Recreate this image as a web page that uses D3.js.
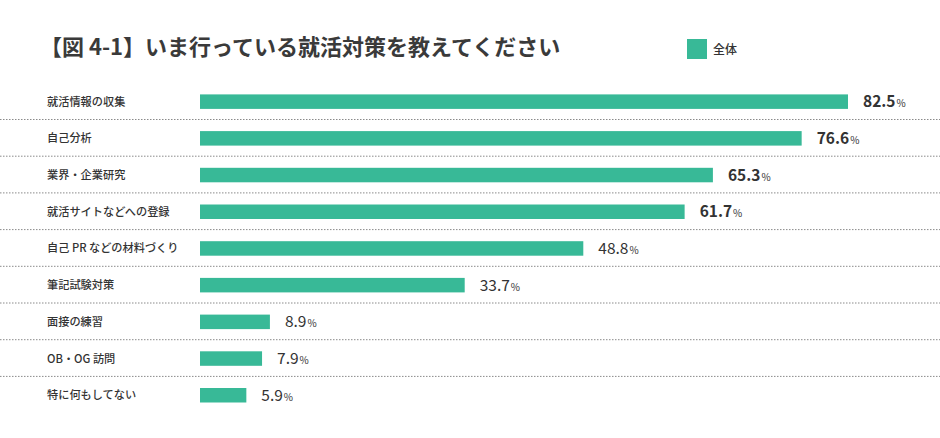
<!DOCTYPE html>
<html>
<head>
<meta charset="utf-8">
<script src="https://cdn.jsdelivr.net/npm/d3@7"></script>
<style>
  body { margin: 0; background: #fff; }
  text { font-family: "Noto Sans CJK JP", "Noto Sans", sans-serif; }
</style>
</head>
<body>
<div id="chart"></div>
<script>
// chart data
const categories = ['就活情報の収集', '自己分析', '業界・企業研究', '就活サイトなどへの登録',
  '自己 PR などの材料づくり', '筆記試験対策', '面接の練習', 'OB・OG 訪問', '特に何もしてない'];
const values = [82.5, 76.6, 65.3, 61.7, 48.8, 33.7, 8.9, 7.9, 5.9];
const seriesName = '全体';
const titleText = '【図 4-1】いま行っている就活対策を教えてください';

const width = 940, height = 438;
const barColor = '#38b997';

const svg = d3.select('#chart').append('svg')
  .attr('width', width)
  .attr('height', height);

// scales
const x = d3.scaleLinear()
  .domain([0, 82.5])
  .range([200, 848]);

const y = d3.scaleBand()
  .domain(categories)
  .range([83.3, 83.3 + 36.7 * categories.length])
  .padding(0);

const barH = 14.5;

// title
svg.append('text')
  .attr('x', 40)
  .attr('y', 55)
  .attr('font-size', 22)
  .attr('font-weight', 'bold')
  .attr('fill', '#3a3a3a')
  .text(titleText);

// legend
svg.append('rect')
  .attr('x', 687).attr('y', 39)
  .attr('width', 20).attr('height', 20)
  .attr('fill', barColor);
svg.append('text')
  .attr('x', 713).attr('y', 53.5)
  .attr('font-size', 12)
  .attr('font-weight', 500)
  .attr('fill', '#333')
  .text(seriesName);

// dotted separators between rows
svg.selectAll('line.sep')
  .data(categories.slice(1))
  .enter().append('line')
  .attr('class', 'sep')
  .attr('x1', 0).attr('x2', width)
  .attr('y1', d => y(d) - 0.5)
  .attr('y2', d => y(d) - 0.5)
  .attr('stroke', '#8a8a8a')
  .attr('stroke-width', 1)
  .attr('stroke-dasharray', '1.5,1.5');

// category labels
svg.selectAll('text.cat')
  .data(categories)
  .enter().append('text')
  .attr('class', 'cat')
  .attr('x', 47)
  .attr('y', d => y(d) + y.bandwidth() / 2)
  .attr('dy', '0.36em')
  .attr('font-size', 11.2)
  .attr('font-weight', 500)
  .attr('fill', '#333')
  .text(d => d);

// bars
svg.selectAll('rect.bar')
  .data(values)
  .enter().append('rect')
  .attr('class', 'bar')
  .attr('x', x(0))
  .attr('y', (d, i) => y(categories[i]) + y.bandwidth() / 2 - barH / 2)
  .attr('width', d => x(d) - x(0))
  .attr('height', barH)
  .attr('fill', barColor);

// value labels
const vl = svg.selectAll('text.val')
  .data(values)
  .enter().append('text')
  .attr('class', 'val')
  .attr('x', d => x(d) + 15)
  .attr('y', (d, i) => y(categories[i]) + y.bandwidth() / 2 + 5.5)
  .attr('fill', '#333');

vl.append('tspan')
  .attr('font-size', 15.5)
  .attr('font-weight', d => d > 50 ? 'bold' : 'normal')
  .text(d => d.toFixed(1));
vl.append('tspan')
  .attr('font-size', 10)
  .attr('dx', 1)
  .text('%');
</script>
</body>
</html>
